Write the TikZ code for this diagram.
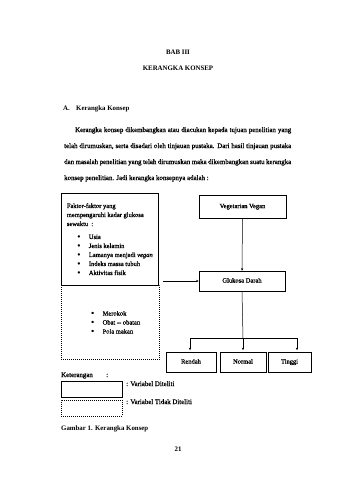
\documentclass[tikz,border=0pt]{standalone}
\usepackage{fontspec}
\setmainfont{Liberation Serif}
\newfontfamily\tebal{Liberation Serif}[FakeBold=1.2]
\usepackage{tikz}
\usetikzlibrary{positioning,arrows.meta,calc}

\newcommand{\bitem}[1]{\makebox[22pt][l]{\hspace{10.5pt}\raisebox{-0.2pt}{\scalebox{1.3}{\textbullet}}}#1}

\begin{document}
\begin{tikzpicture}[
    x=1pt, y=-1pt,
    body/.style={font=\fontsize{6.86}{8}\selectfont\tebal, inner sep=0pt},
    head/.style={font=\fontsize{6.86}{8}\selectfont\bfseries, inner sep=0pt},
    box/.style={draw, line width=0.6pt, font=\fontsize{6.5}{9}\selectfont\tebal,
                inner sep=0pt, align=center, text height=4.6pt, text depth=1.4pt},
    dbox/.style={box, dash pattern=on 0.8pt off 1.2pt, line width=0.8pt},
    arr/.style={-{Stealth[length=2.6pt, width=2.4pt]}, line width=0.5pt},
  ]

  \useasboundingbox (0,0) rectangle (340,480);
  \fill[white] (0,0) rectangle (340,480);

  % ---------- page heading ----------
  \node[head, anchor=base] (bab) at (178,54) {BAB III};
  \node[head, anchor=base] (judul) at (178,70) {KERANGKA KONSEP};
  \node[head, anchor=base west] (subA) at (63,110) {A.};
  \node[head, anchor=base west] (sub) at (76,110) {Kerangka Konsep};

  % ---------- paragraph (justified lines) ----------
  \node[body, anchor=base west] (p1) at (75,132)
    {\makebox[216pt][s]{Kerangka konsep dikembangkan atau diacukan kepada tujuan penelitian yang}};
  \node[body, anchor=base west] (p2) at (64,148)
    {\makebox[227pt][s]{telah dirumuskan, serta disadari oleh tinjauan pustaka. Dari hasil tinjauan pustaka}};
  \node[body, anchor=base west] (p3) at (64,164)
    {\makebox[227pt][s]{dan masalah penelitian yang telah dirumuskan maka dikembangkan suatu kerangka}};
  \node[body, anchor=base west] (p4) at (64,180)
    {konsep penelitian. Jadi kerangka konsepnya adalah :};

  % ---------- left: factors (studied / not studied) ----------
  \node[dbox, minimum width=98pt, minimum height=74pt, align=left,
        text height=, text depth=, anchor=north west] (luar) at (61,285)
    {\bitem{Merokok}\\ \bitem{Obat -- obatan}\\ \bitem{Pola makan}};
  \node[box, minimum width=97pt, minimum height=92pt, align=left,
        text height=, text depth=, anchor=north west, fill=white] (faktor) at (61,193)
    {Faktor-faktor yang\\ mempengaruhi kadar glukosa\\ sewaktu \ :\\[4pt]
     \bitem{Usia}\\ \bitem{Jenis kelamin}\\ \bitem{Lamanya menjadi \textit{vegan}}\\
     \bitem{Indeks massa tubuh}\\ \bitem{Aktivitas fisik}};

  % ---------- right: main chain ----------
  \node[box, minimum width=87pt, minimum height=23pt] (vegan) at (242.5,206.5) {Vegetarian Vegan};
  \node[box, minimum width=86pt, minimum height=20pt] (gula) at (242,281) {Glukosa Darah};
  \node[box, minimum width=50pt, minimum height=20pt] (rendah) at (191,362) {Rendah};
  \node[box, minimum width=46pt, minimum height=20pt] (normal) at (243,362) {Normal};
  \node[box, minimum width=43pt, minimum height=20pt] (tinggi) at (289.5,362) {Tinggi};

  \draw[arr] (vegan) -- (gula);
  \draw[arr] ([xshift=4pt]faktor.east |- gula.west) -- (gula.west);

  \coordinate (cab) at (243,338);
  \coordinate (cabL) at (190,338);
  \coordinate (cabR) at (297,338);
  \draw[line width=0.5pt] (gula.south) -- (cab);
  \draw[line width=0.5pt] (cabL) -- (cabR);
  \draw[arr, shorten >=1.5pt] (cabL) -- (cabL |- rendah.north);
  \draw[arr, shorten >=1.5pt] (cab) -- (normal.north);
  \draw[arr, shorten >=1.5pt] (cabR) -- (cabR |- tinggi.north);

  % ---------- legend ----------
  \node[body, anchor=base west] (ket) at (61,377) {Keterangan};
  \node[body, anchor=base west] (ketc) at (106,377) {:};
  \node[box, minimum width=61pt, minimum height=16pt] (lgA) at (91.5,389) {};
  \node[dbox, minimum width=61pt, minimum height=16pt] (lgB) at (91.5,408) {};
  \node[body, anchor=base west] (lgAt) at (126,386) {: Variabel Diteliti};
  \node[body, anchor=base west] (lgBt) at (126,404) {: Variabel Tidak Diteliti};

  % ---------- caption + page number ----------
  \node[head, anchor=base west] (cap) at (61,430) {Gambar 1. Kerangka Konsep};
  \node[head, anchor=base] (hal) at (178,451) {21};

\end{tikzpicture}
\end{document}
